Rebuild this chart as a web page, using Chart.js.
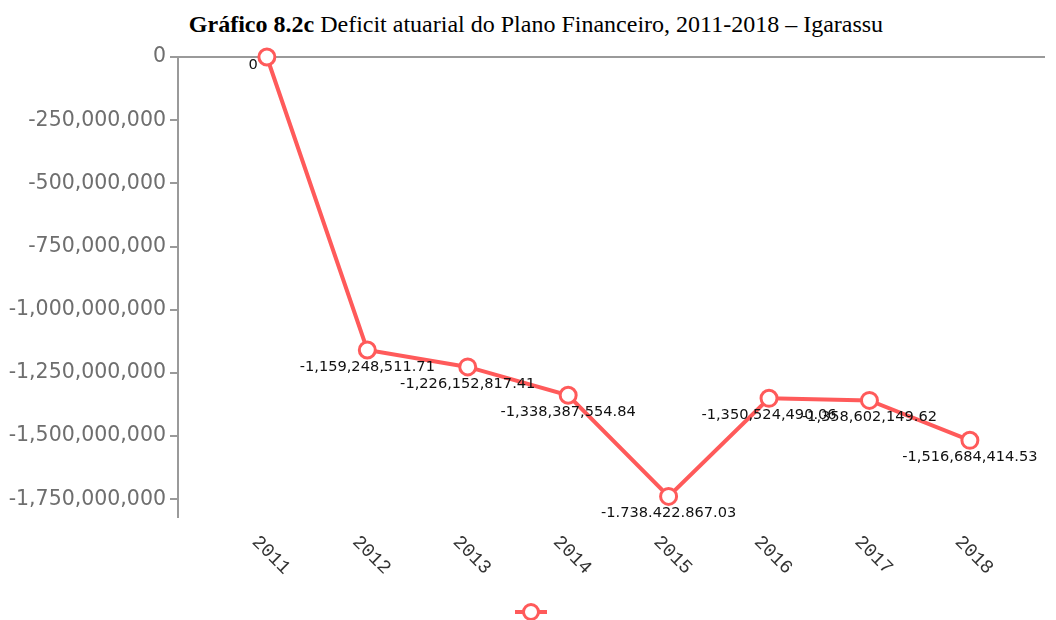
<!DOCTYPE html>
<html>
<head>
<meta charset="utf-8">
<script src="https://cdn.jsdelivr.net/npm/chart.js@4"></script>
<style>
  html, body { margin: 0; padding: 0; background: #fff; }
  #wrap { position: relative; width: 1056px; height: 620px; }
  #title { position: absolute; left: 16px; top: 11px; width: 1040px; text-align: center;
           font-family: "Liberation Serif", "Times New Roman", serif; font-size: 24px; line-height: 26px; color: #000; }
  canvas { position: absolute; left: 0; top: 0; }
</style>
</head>
<body>
<div id="wrap">
  <div id="title"><b>Gráfico 8.2c</b> Deficit atuarial do Plano Financeiro, 2011-2018 – Igarassu</div>
  <canvas id="c" width="1056" height="620"></canvas>
</div>
<script>
const years = [2011, 2012, 2013, 2014, 2015, 2016, 2017, 2018];
const deficit = [0, -1159248511.71, -1226152817.41, -1338387554.84, -1738422867.03, -1350524490.06, -1358602149.62, -1516684414.53];
const pointLabels = ["0", "-1,159,248,511.71", "-1,226,152,817.41", "-1,338,387,554.84", "-1.738.422.867.03", "-1,350,524,490.06", "-1,358,602,149.62", "-1,516,684,414.53"];
const yTicks = [0, -250000000, -500000000, -750000000, -1000000000, -1250000000, -1500000000, -1750000000];

const RED = '#ff5a5a';

// legend marker: line with an open circle
const legendMark = document.createElement('canvas');
legendMark.width = 34; legendMark.height = 22;
(function () {
  const g = legendMark.getContext('2d');
  g.strokeStyle = RED; g.lineWidth = 4;
  g.beginPath(); g.moveTo(1, 11); g.lineTo(33, 11); g.stroke();
  g.beginPath(); g.arc(17, 11, 7.5, 0, Math.PI * 2);
  g.fillStyle = '#fff'; g.fill();
  g.lineWidth = 3; g.stroke();
})();

const labelsPlugin = {
  id: 'labelsPlugin',
  afterDatasetsDraw(chart) {
    const ctx = chart.ctx;
    const meta = chart.getDatasetMeta(0);
    ctx.save();
    ctx.font = '14.6px "DejaVu Sans", sans-serif';
    ctx.fillStyle = '#111';
    ctx.textBaseline = 'middle';
    meta.data.forEach((pt, i) => {
      if (deficit[i] === 0) {
        ctx.textAlign = 'right';
        ctx.fillText(pointLabels[i], pt.x - 9, pt.y + 8);
      } else {
        ctx.textAlign = 'center';
        ctx.fillText(pointLabels[i], pt.x, pt.y + 17);
      }
    });
    ctx.restore();
  },
  afterDraw(chart) {
    const ctx = chart.ctx;
    const xs = chart.scales.x;
    ctx.save();
    ctx.font = '19px "Liberation Mono", monospace';
    ctx.fillStyle = '#333';
    ctx.textAlign = 'left';
    ctx.textBaseline = 'middle';
    years.forEach(yr => {
      const px = xs.getPixelForValue(yr);
      ctx.save();
      ctx.translate(px - 12, chart.chartArea.bottom + 22);
      ctx.rotate(Math.PI / 4);
      ctx.fillText(String(yr), 0, 0);
      ctx.restore();
    });
    ctx.restore();
  }
};

new Chart(document.getElementById('c'), {
  type: 'line',
  data: {
    datasets: [{
      label: '',
      data: years.map((yr, i) => ({ x: yr, y: deficit[i] })),
      borderColor: RED,
      borderWidth: 4,
      pointRadius: 8,
      pointHoverRadius: 8,
      pointBorderWidth: 3,
      pointBackgroundColor: '#fff',
      pointBorderColor: RED,
      tension: 0,
      clip: false
    }]
  },
  options: {
    responsive: false,
    animation: false,
    events: [],
    layout: { padding: { top: 57, right: 0, bottom: -4, left: 8 } },
    plugins: {
      title: { display: false },
      tooltip: { enabled: false },
      legend: {
        display: true,
        position: 'bottom',
        labels: {
          usePointStyle: true,
          pointStyleWidth: 32,
          padding: 16,
          font: { size: 4 },
          generateLabels: () => [{
            text: '',
            pointStyle: legendMark,
            fillStyle: '#fff',
            strokeStyle: RED,
            lineWidth: 0,
            hidden: false,
            datasetIndex: 0
          }]
        }
      }
    },
    scales: {
      x: {
        type: 'linear',
        min: 2010.115,
        max: 2018.748,
        grid: { display: false },
        border: { display: false },
        ticks: { display: false },
        afterFit: s => { s.height = 77; }
      },
      y: {
        min: -1820000000,
        max: 0,
        border: { display: true, color: '#9a9a9a', width: 2 },
        grid: {
          color: c => (c.tick && c.tick.value === 0) ? '#9a9a9a' : 'rgba(0,0,0,0)',
          tickColor: '#9a9a9a',
          tickLength: 8,
          lineWidth: 2,
          drawOnChartArea: true
        },
        ticks: {
          padding: 4,
          color: '#6e6e6e',
          font: { family: '"DejaVu Sans", sans-serif', size: 20.5 },
          callback: v => Number(v).toLocaleString('en-US')
        },
        afterBuildTicks: s => { s.ticks = yTicks.map(v => ({ value: v })); },
        afterFit: s => { s.width = 170; }
      }
    }
  },
  plugins: [labelsPlugin]
});
</script>
</body>
</html>
